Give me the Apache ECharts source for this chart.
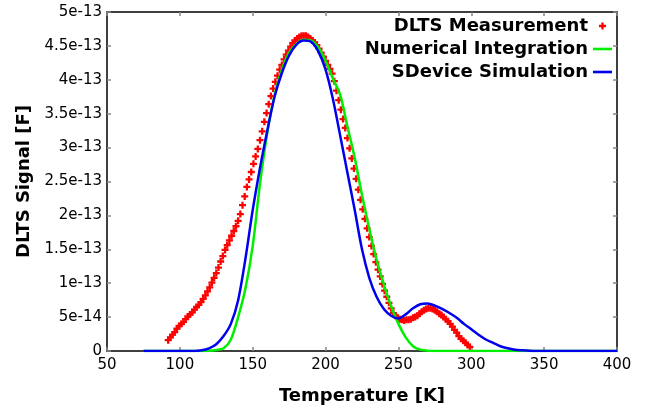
<!DOCTYPE html>
<html>
<head>
<meta charset="utf-8">
<script src="https://cdn.jsdelivr.net/npm/echarts@6/dist/echarts.min.js"></script>
<style>
html,body{margin:0;padding:0;background:#fff;}
#chart{width:648px;height:411px;}
</style>
</head>
<body>
<div id="chart"></div>
<script>
// ---- Data (signal values in units of 1e-13 F) ----
const seriesNames = ['DLTS Measurement', 'Numerical Integration', 'SDevice Simulation'];

// DLTS measurement: temperatures [K]
const dltsTemp = [
  92,93.5,95,96.5,98,99.5,101,102.5,104,105.5,
  107,108.5,110,111.5,113,114.5,116,117.5,119,120.5,
  122,123.5,125,126.5,128,129.5,131,132.5,134,135.5,
  137,138.5,140,141.5,143,144.5,146,147.5,149,150.5,
  152,153.5,155,156.5,158,159.5,161,162.5,164,165.5,
  167,168.5,170,171.5,173,174.5,176,177.5,179,180.5,
  182,183.5,185,186.5,188,189.5,191,192.5,194,195.5,
  197,198.5,200,201.5,203,204.5,206,207.5,209,210.5,
  212,213.5,215,216.5,218,219.5,221,222.5,224,225.5,
  227,228.5,230,231.5,233,234.5,236,237.5,239,240.5,
  242,243.5,245,246.5,248,249.5,251,252.5,254,255.5,
  257,258.5,260,261.5,263,264.5,266,267.5,269,270.5,
  272,273.5,275,276.5,278,279.5,281,282.5,284,285.5,
  287,288.5,290,291.5,293,294.5,296,297.5,299];
// DLTS measurement: signal [1e-13 F]
const dltsSignal = [
  0.16,0.20,0.24,0.28,0.33,0.37,0.40,0.43,0.47,0.51,
  0.54,0.57,0.61,0.65,0.68,0.72,0.77,0.82,0.88,0.94,
  1.01,1.08,1.15,1.23,1.32,1.40,1.49,1.56,1.63,1.70,
  1.77,1.84,1.92,2.02,2.15,2.28,2.42,2.53,2.64,2.76,
  2.87,2.98,3.11,3.24,3.38,3.51,3.64,3.76,3.87,3.97,
  4.06,4.15,4.22,4.30,4.37,4.43,4.49,4.54,4.58,4.61,
  4.63,4.65,4.65,4.65,4.63,4.61,4.58,4.55,4.51,4.46,
  4.40,4.34,4.28,4.22,4.16,4.09,3.98,3.84,3.70,3.56,
  3.42,3.29,3.14,2.99,2.84,2.69,2.54,2.38,2.23,2.09,
  1.95,1.81,1.68,1.55,1.43,1.31,1.20,1.10,0.99,0.89,
  0.80,0.71,0.63,0.56,0.52,0.49,0.47,0.46,0.45,0.46,
  0.46,0.47,0.49,0.50,0.52,0.55,0.58,0.60,0.62,0.63,
  0.63,0.62,0.60,0.58,0.55,0.53,0.50,0.47,0.44,0.40,
  0.36,0.31,0.27,0.22,0.18,0.15,0.12,0.09,0.06];

// Simulated curves: temperatures [K]
const simTemp = [75,80,85,90,95,100,105,110,115,120,125,130,135,140,145,150,155,160,165,170,
  175,180,185,190,195,200,205,210,215,220,225,230,235,240,245,250,255,260,265,270,
  275,280,285,290,295,300,305,310,315,320,325,330,335,340,345,350,355,360,365,370,
  375,380,385,390,395,400];
const numIntSignal = [0,0,0,0,0,0,0,0,0,0.003,0.015,0.04,0.17,0.50,0.92,1.55,2.47,3.22,3.78,4.15,
  4.40,4.53,4.59,4.58,4.48,4.28,4.02,3.78,3.31,2.85,2.30,1.80,1.35,0.98,0.66,0.40,0.20,0.07,0.02,0.005,
  0,0,0,0,0,0,0,0,0,0,0,0,0,0,0,0,0,0,0,0,
  0,0,0,0,0,0];
const sdeviceSignal = [0,0,0,0,0,0,0,0,0.01,0.04,0.10,0.22,0.40,0.75,1.36,2.08,2.70,3.25,3.75,4.10,
  4.36,4.52,4.58,4.56,4.42,4.15,3.72,3.18,2.63,2.08,1.50,1.08,0.80,0.62,0.52,0.48,0.54,0.63,0.69,0.70,
  0.67,0.62,0.56,0.49,0.40,0.32,0.24,0.17,0.12,0.07,0.04,0.02,0.01,0.003,0,0,0,0,0,0,
  0,0,0,0,0,0];

// Tick labels
const xTicks = [50,100,150,200,250,300,350,400];
const yTickLabels = ['0','5e-14','1e-13','1.5e-13','2e-13','2.5e-13','3e-13','3.5e-13','4e-13','4.5e-13','5e-13'];

const zip = (xs, ys) => xs.map((x, i) => [x, ys[i]]);

const FONT = 'DejaVu Sans';
const plusPath = 'path://M2.7,0H5.3V2.7H8V5.3H5.3V8H2.7V5.3H0V2.7H2.7Z';
const linePath = 'path://M0,0H19V2.6H0Z';

const chart = echarts.init(document.getElementById('chart'), null, {renderer: 'canvas'});

const axisLineStyle = {show: true, onZero: false, lineStyle: {color: '#000', width: 1.5}};
const tickStyle = {show: true, inside: true, length: 4, lineStyle: {color: '#888', width: 1.5}};

chart.setOption({
  animation: false,
  backgroundColor: '#fff',
  grid: {left: 107, right: 31, top: 12, bottom: 60, containLabel: false},
  legend: {
    orient: 'vertical',
    right: 31,
    top: 12,
    align: 'right',
    itemWidth: 19,
    itemHeight: 7,
    itemGap: 5,
    symbolKeepAspect: true,
    textStyle: {fontFamily: FONT, fontWeight: 'bold', fontSize: 18, color: '#000'},
    data: [
      {name: seriesNames[0], icon: plusPath, itemStyle: {color: '#ff0000', borderWidth: 0}},
      {name: seriesNames[1], icon: linePath, itemStyle: {color: '#00ee00', borderWidth: 0}},
      {name: seriesNames[2], icon: linePath, itemStyle: {color: '#0000ee', borderWidth: 0}}
    ]
  },
  xAxis: [{
    type: 'value', position: 'bottom', min: 50, max: 400, interval: 50,
    axisLine: axisLineStyle, axisTick: tickStyle, splitLine: {show: false},
    axisLabel: {fontFamily: FONT, fontSize: 15, color: '#000', margin: 7,
      formatter: v => (xTicks.indexOf(v) >= 0 ? String(v) : '')},
    name: 'Temperature [K]', nameLocation: 'middle', nameGap: 36,
    nameTextStyle: {fontFamily: FONT, fontWeight: 'bold', fontSize: 18, color: '#000'}
  }, {
    type: 'value', position: 'top', min: 50, max: 400, interval: 50,
    axisLine: axisLineStyle, axisTick: tickStyle, axisLabel: {show: false}, splitLine: {show: false}
  }],
  yAxis: [{
    type: 'value', position: 'left', min: 0, max: 5, interval: 0.5,
    axisLine: axisLineStyle, axisTick: tickStyle, splitLine: {show: false},
    axisLabel: {fontFamily: FONT, fontSize: 15, color: '#000', margin: 5,
      formatter: v => yTickLabels[Math.round(v / 0.5)]},
    name: 'DLTS Signal [F]', nameLocation: 'middle', nameGap: 72, nameRotate: 90,
    nameTextStyle: {fontFamily: FONT, fontWeight: 'bold', fontSize: 18, color: '#000'}
  }, {
    type: 'value', position: 'right', min: 0, max: 5, interval: 0.5,
    axisLine: axisLineStyle, axisTick: tickStyle, axisLabel: {show: false}, splitLine: {show: false}
  }],
  series: [
    {
      name: seriesNames[0], type: 'scatter', xAxisIndex: 0, yAxisIndex: 0,
      data: zip(dltsTemp, dltsSignal),
      symbol: plusPath, symbolSize: 7,
      itemStyle: {color: '#ff0000', opacity: 1}, z: 2
    },
    {
      name: seriesNames[1], type: 'line', xAxisIndex: 0, yAxisIndex: 0,
      data: zip(simTemp, numIntSignal), smooth: 0.3, showSymbol: false,
      color: '#00ee00', lineStyle: {color: '#00ee00', width: 2.5}, z: 3
    },
    {
      name: seriesNames[2], type: 'line', xAxisIndex: 0, yAxisIndex: 0,
      data: zip(simTemp, sdeviceSignal), smooth: 0.3, showSymbol: false,
      color: '#0000ee', lineStyle: {color: '#0000ee', width: 2.5}, z: 4
    }
  ]
});
</script>
</body>
</html>
